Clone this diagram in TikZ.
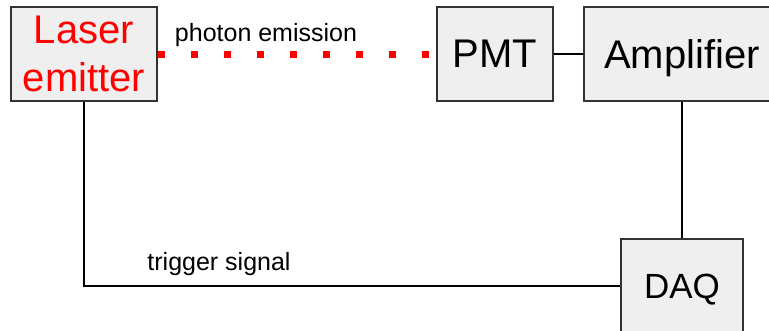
\documentclass[tikz,border=0pt]{standalone}
\usepackage{fontspec}
\setmainfont{Liberation Sans}
\definecolor{boxfill}{HTML}{EFEFEF}
\definecolor{boxline}{HTML}{333333}
\tikzset{
  unit/.style={draw=boxline, line width=1.3pt, fill=boxfill, inner sep=0pt,
    font=\fontsize{40}{48}\selectfont},
  wire/.style={line width=2pt, black},
  photon/.style={line width=7pt, red, dash pattern=on 7pt off 26pt},
  label/.style={anchor=base, inner sep=0pt, font=\fontsize{25}{28}\selectfont}
}
\begin{document}
\begin{tikzpicture}[x=1pt, y=-1pt]
\useasboundingbox (0,0) rectangle (769,330);
\clip (0,0) rectangle (769,330);

% instrument blocks
\node[unit, minimum width=146pt, minimum height=94pt, align=center, text=red] (laser) at (84,54) {Laser\\emitter};
\node[unit, minimum width=116pt, minimum height=94pt, text depth=0pt] (pmt) at (495,54) {PMT};
\node[unit, minimum width=196pt, minimum height=94pt, text depth=0pt] (amp) at (682,54) {Amplifier};
\node[unit, minimum width=122pt, minimum height=94pt, text depth=0pt, font=\fontsize{35}{42}\selectfont] (daq) at (682,286) {DAQ};

% connections
\draw[photon] (laser.east) -- (pmt.west);
\draw[wire] (pmt.east) -- (amp.west);
\draw[wire] (amp.south) -- (daq.north);
\draw[wire] (laser.south) |- (daq.west);

% signal labels
\node[label] (photonlabel) at (266,41) {photon emission};
\node[label] (triggerlabel) at (219,270) {trigger signal};
\end{tikzpicture}
\end{document}
